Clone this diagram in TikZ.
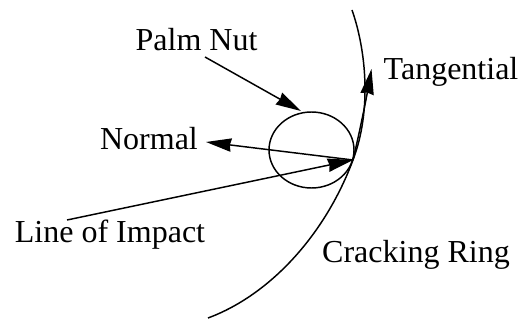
\documentclass[tikz,border=0pt]{standalone}
\usepackage{fontspec}
\setmainfont{Liberation Serif}
\usetikzlibrary{arrows.meta}
\tikzset{lab/.style={inner sep=0pt,font=\fontsize{24}{26}\selectfont,text=black},
 ln/.style={line width=1.1pt},
 arr/.style={line width=1.1pt,-{Stealth[length=19pt,width=10pt,inset=1pt]}}}
\begin{document}
\begin{tikzpicture}[x=0.75pt,y=-0.75pt]
\useasboundingbox (0,0) rectangle (520,320);
\fill[white] (0,0) rectangle (520,320);
\node[lab,anchor=base] (pn) at (196.5,51) {Palm Nut};
\node[lab,anchor=base] (tg) at (451,80) {Tangential};
\node[lab,anchor=base] (nm) at (149,150) {Normal};
\node[lab,anchor=base] (li) at (110,242) {Line of Impact};
\node[lab,anchor=base] (cr) at (416,262) {Cracking Ring};
\coordinate (p) at (353,160);
\coordinate (nut) at (311.5,150);
\coordinate (ringtop) at (352,10);
\coordinate (ringend) at (208,318);
\draw[ln] (nut) ellipse [x radius=42.5,y radius=38];
\draw[ln] (ringtop) .. controls (366,50) and (372,110) .. (p) .. controls (325,235) and (270,295) .. (ringend);
\coordinate (a1) at (205,57);
\coordinate (a2) at (301,111);
\draw[arr] (a1) -- (a2);
\coordinate (ns) at (206,142);
\draw[arr] (p) -- (ns);
\coordinate (ls) at (67,220);
\draw[arr] (ls) -- (p);
\coordinate (ts) at (371.5,69);
\draw[arr] (p) .. controls (360,130) and (366,100) .. (ts);
\end{tikzpicture}
\end{document}
